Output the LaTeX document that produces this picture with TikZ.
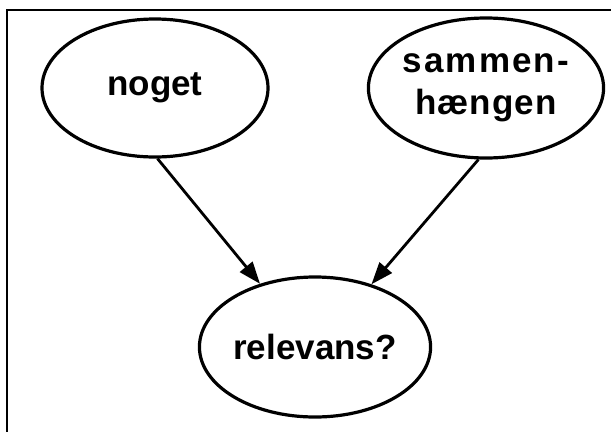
\documentclass[tikz,border=0pt]{standalone}
\usepackage{fontspec}
\setmainfont{Liberation Sans}
\usetikzlibrary{shapes.geometric,arrows.meta}
\begin{document}
\begin{tikzpicture}[x=1pt,y=-1pt,
  bubble/.style={draw, line width=3.2pt, ellipse, inner sep=0pt,
    font=\bfseries\fontsize{35}{42}\selectfont, align=center},
  link/.style={line width=2.8pt, -{Triangle[length=22pt,width=16pt]}},
  frameline/.style={line width=2.4pt}]
\useasboundingbox (0,0) rectangle (611,432);
\coordinate (tl) at (7,10);
\coordinate (tr) at (611,10);
\coordinate (bl) at (7,432);
\draw[frameline] (tr) -- (tl) -- (bl);
\node[bubble, minimum width=226pt, minimum height=138pt] (noget) at (155,88) {noget};
\node[bubble, minimum width=228pt, minimum height=140pt] (samm) at (486,88)
  {\addfontfeatures{LetterSpace=6}sammen-\\\addfontfeatures{LetterSpace=3}hængen};
\node[bubble, minimum width=226pt, minimum height=140pt] (rel) at (315,347) {relevans?};
\draw[link] (noget.-88) -- (rel.131);
\draw[link] (samm.-96) -- (rel.48);
\end{tikzpicture}
\end{document}
